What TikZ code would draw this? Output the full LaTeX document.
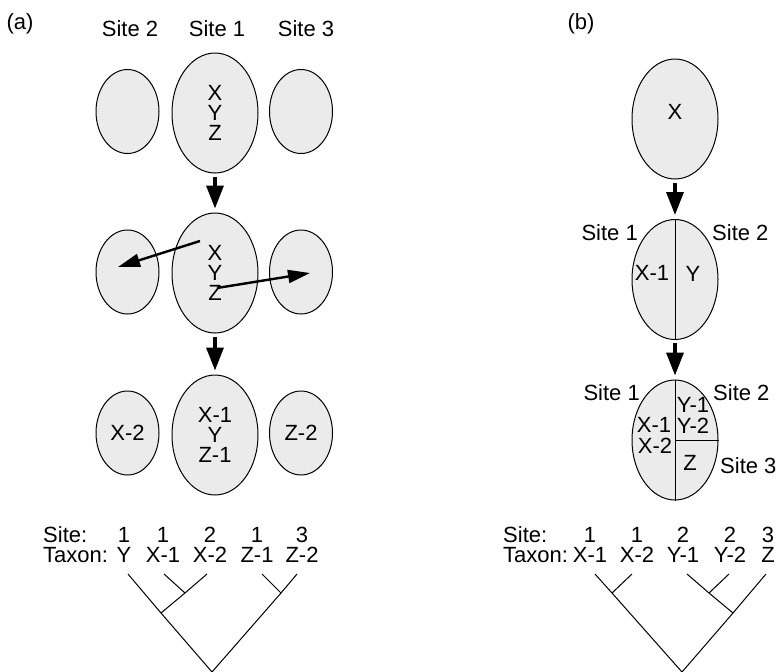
\documentclass[tikz,border=0pt]{standalone}
\usepackage{fontspec}
\setmainfont{Liberation Sans}
\usetikzlibrary{arrows.meta,shapes.geometric}
\definecolor{CellFill}{HTML}{EBEBEB}

\begin{document}
\begin{tikzpicture}[
          x=1pt,y=-1pt,
          every node/.style={font=\fontsize{22}{20}\selectfont,inner sep=0pt},
          site/.style={ellipse,draw,line width=1pt,fill=CellFill,minimum width=63pt,minimum height=84pt,align=center},
          hub/.style={site,minimum width=86pt,minimum height=120pt},
          descend/.style={-{Triangle[length=23pt,width=17pt]},line width=3.5pt,shorten <=3pt,shorten >=4pt},
          migrate/.style={-{Triangle[length=22pt,width=13pt]},line width=2.4pt},
          wall/.style={line width=1pt},
          branch/.style={line width=1pt},
          lbl/.style={anchor=base}
        ]
        \useasboundingbox (0,0) rectangle (777,672);
        \node[lbl] (tagA) at (20,29) {(a)};
        \node[lbl] (tagB) at (581,29) {(b)};

        \node[lbl] (head2) at (130,36) {Site 2};
        \node[lbl] (head1) at (217,36) {Site 1};
        \node[lbl] (head3) at (306,36) {Site 3};

        \node[site] (aL1) at (127.5,111.5) {};
        \node[hub] (aC1) at (215,113) {X\\Y\\Z};
        \node[site] (aR1) at (301,111.5) {};

        \node[site] (aL2) at (127.5,272) {};
        \node[hub] (aC2) at (215,273) {X\\Y\\Z};
        \node[site] (aR2) at (301,272) {};

        \node[site] (aL3) at (127.5,433) {X-2};
        \node[hub] (aC3) at (215,435) {X-1\\Y\\Z-1};
        \node[site] (aR3) at (301,433) {Z-2};

        \draw[descend] (aC1) -- (aC2);
        \draw[descend] (aC2) -- (aC3);
        \coordinate (xfrom) at (200,241);
        \coordinate (xto) at (118,267);
        \coordinate (zfrom) at (217,288);
        \coordinate (zto) at (310,273);
        \draw[migrate] (xfrom) -- (xto);
        \draw[migrate] (zfrom) -- (zto);

        \node[anchor=base west] (siteA) at (43,542) {Site:};
        \node[anchor=base west] (taxA) at (43,562) {Taxon:};
        \foreach \x/\s/\t [count=\i] in {124/1/Y,163/1/X-1,210/2/X-2,257/1/Z-1,302/3/Z-2}{
          \node[lbl] (sa\i) at (\x,542) {\s};
          \node[lbl] (ta\i) at (\x,562) {\t};
        }
        \coordinate (aY) at (128,574);
        \coordinate (aX1) at (164,574);
        \coordinate (aX2) at (207,574);
        \coordinate (aZ1) at (262,574);
        \coordinate (aZ2) at (297,574);
        \coordinate (aj1) at (185,593);
        \coordinate (aj2) at (161,613);
        \coordinate (aj3) at (281,593);
        \coordinate (aroot) at (212,672);
        \draw[branch] (aY) -- (aj2) -- (aroot) -- (aj3) -- (aZ2);
        \draw[branch] (aX2) -- (aj1) -- (aj2);
        \draw[branch] (aX1) -- (aj1);
        \draw[branch] (aZ1) -- (aj3);

        \node[hub] (bC1) at (675,119) {};
        \node[lbl] (bX) at (675,119) {X};

        \node[hub] (bC2) at (675,279.5) {};
        \draw[wall] (bC2.north) -- (bC2.south);
        \node[lbl] (bX1) at (652,280) {X-1};
        \node[lbl] (bY) at (693,281) {Y};
        \node[anchor=base east] (bS1) at (638,240) {Site 1};
        \node[anchor=base west] (bS2) at (712,240) {Site 2};

        \node[hub] (bC3) at (675,440) {};
        \draw[wall] (bC3.north) -- (bC3.south);
        \draw[wall] (bC3.center) -- (bC3.east);
        \node[lbl] (cY1) at (693,412) {Y-1};
        \node[lbl] (cY2) at (693,433) {Y-2};
        \node[lbl] (cX1) at (654,432) {X-1};
        \node[lbl] (cX2) at (655,453) {X-2};
        \node[lbl] (cZ) at (690,470) {Z};
        \node[anchor=base east] (cS1) at (640,400) {Site 1};
        \node[anchor=base west] (cS2) at (713,400) {Site 2};
        \node[anchor=base west] (cS3) at (720,473) {Site 3};

        \draw[descend] (bC1) -- (bC2);
        \draw[descend] (bC2) -- (bC3);

        \node[anchor=base west] (siteB) at (503,542) {Site:};
        \node[anchor=base west] (taxB) at (503,562) {Taxon:};
        \foreach \x/\s/\t [count=\i] in {590/1/X-1,637/1/X-2,683/2/Y-1,730/2/Y-2,768/3/Z}{
          \node[lbl] (sb\i) at (\x,542) {\s};
          \node[lbl] (tb\i) at (\x,562) {\t};
        }
        \coordinate (bX1t) at (595,574);
        \coordinate (bX2t) at (632,574);
        \coordinate (bY1t) at (687,574);
        \coordinate (bY2t) at (729,574);
        \coordinate (bZt) at (766,574);
        \coordinate (bj1) at (612,593);
        \coordinate (bj2) at (709,593);
        \coordinate (bj3) at (733,613);
        \coordinate (broot) at (682,672);
        \draw[branch] (bX1t) -- (bj1) -- (broot) -- (bj3) -- (bZt);
        \draw[branch] (bX2t) -- (bj1);
        \draw[branch] (bY1t) -- (bj2) -- (bj3);
        \draw[branch] (bY2t) -- (bj2);

      \end{tikzpicture}
\end{document}
